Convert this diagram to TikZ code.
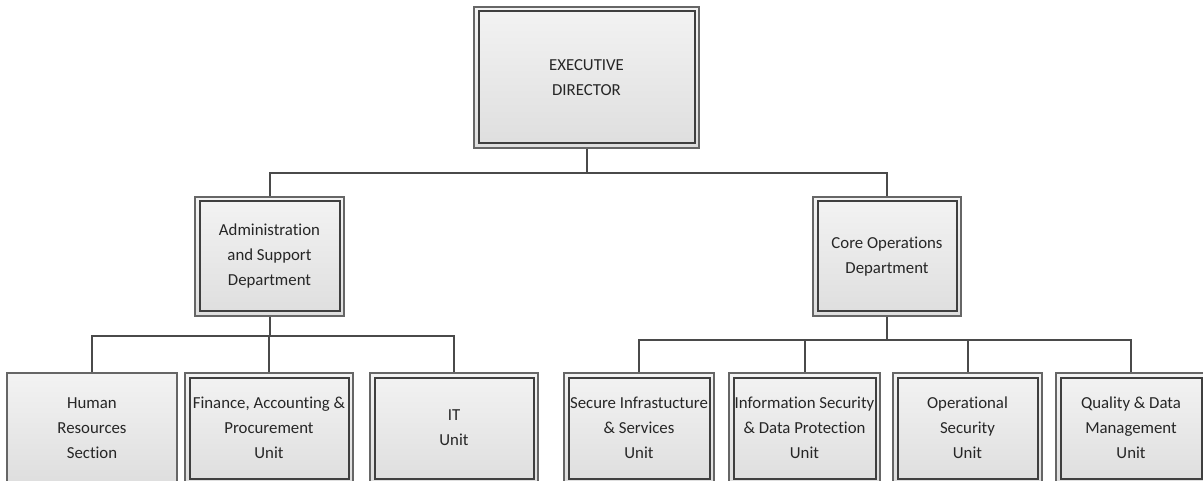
\documentclass[tikz,border=0pt]{standalone}
\usepackage{fontspec}
\setmainfont{Carlito}[Ligatures=NoCommon]
\begin{document}
\begin{tikzpicture}[x=1pt,y=-1pt,
  every node/.style={font=\fontsize{16.8}{25}\selectfont, align=center, inner sep=0pt, text=black!85},
  box/.style={draw=outerc, line width=1.3pt, top color=boxtop, bottom color=boxbot,
    shading angle=0, minimum width=#1},
  box/.default=150pt,
  boxd/.style={box=#1, path picture={
      \draw[draw=innerc, line width=2pt]
        ([shift={(4.5pt,-4.5pt)}]path picture bounding box.north west) rectangle
        ([shift={(-4.5pt,4.5pt)}]path picture bounding box.south east);}},
  boxd/.default=150pt,
  unitbox/.style={minimum height=110pt},
  link/.style={draw=linec, line width=2pt}
]
\definecolor{outerc}{HTML}{666666}
\definecolor{innerc}{HTML}{3F3F3F}
\definecolor{linec}{HTML}{4A4A4A}
\definecolor{boxtop}{HTML}{F3F3F3}
\definecolor{boxbot}{HTML}{DEDEDE}

\clip (0,0) rectangle (1203,481);
\fill[white] (0,0) rectangle (1203,481);

% top level
\node[boxd=225pt, minimum height=141pt] (exec) at (586.5,77.5) {EXECUTIVE\\DIRECTOR};

% departments
\node[boxd=149pt, minimum height=119pt] (admin) at (269.5,256.5) {Administration\\and Support\\Department};
\node[boxd=148pt, minimum height=119pt] (core) at (887,256.5) {Core Operations\\Department};

% administration units
\node[box=170pt, unitbox] (hr) at (92,428) {Human\\Resources\\Section};
\node[boxd=168pt, unitbox] (fin) at (269,428) {Finance, Accounting \&\\Procurement\\Unit};
\node[boxd=168pt, unitbox] (it) at (454,428) {IT\\Unit};

% core operation units
\node[boxd=150pt, unitbox] (sec) at (639,428) {Secure Infrastucture\\\& Services\\Unit};
\node[boxd=151pt, unitbox] (info) at (804.5,428) {Information Security\\\& Data Protection\\Unit};
\node[boxd=149pt, unitbox] (ops) at (967.5,428) {Operational\\Security\\Unit};
\node[boxd=150pt, unitbox] (qual) at (1131,428) {Quality \& Data\\Management\\Unit};

% bus junctions
\coordinate (b0) at (exec.south |- 0,173);
\coordinate (b1) at (admin.south |- 0,336);
\coordinate (b2) at (core.south |- 0,339.5);

% connectors
\draw[link] (exec.south) -- (b0);
\draw[link] (b0) -| (admin.north);
\draw[link] (b0) -| (core.north);

\draw[link] (admin.south) -- (b1);
\draw[link] (b1) -| (hr.north);
\draw[link] (b1) -| (fin.north);
\draw[link] (b1) -| (it.north);

\draw[link] (core.south) -- (b2);
\draw[link] (b2) -| (sec.north);
\draw[link] (b2) -| (info.north);
\draw[link] (b2) -| (ops.north);
\draw[link] (b2) -| (qual.north);
\end{tikzpicture}
\end{document}
